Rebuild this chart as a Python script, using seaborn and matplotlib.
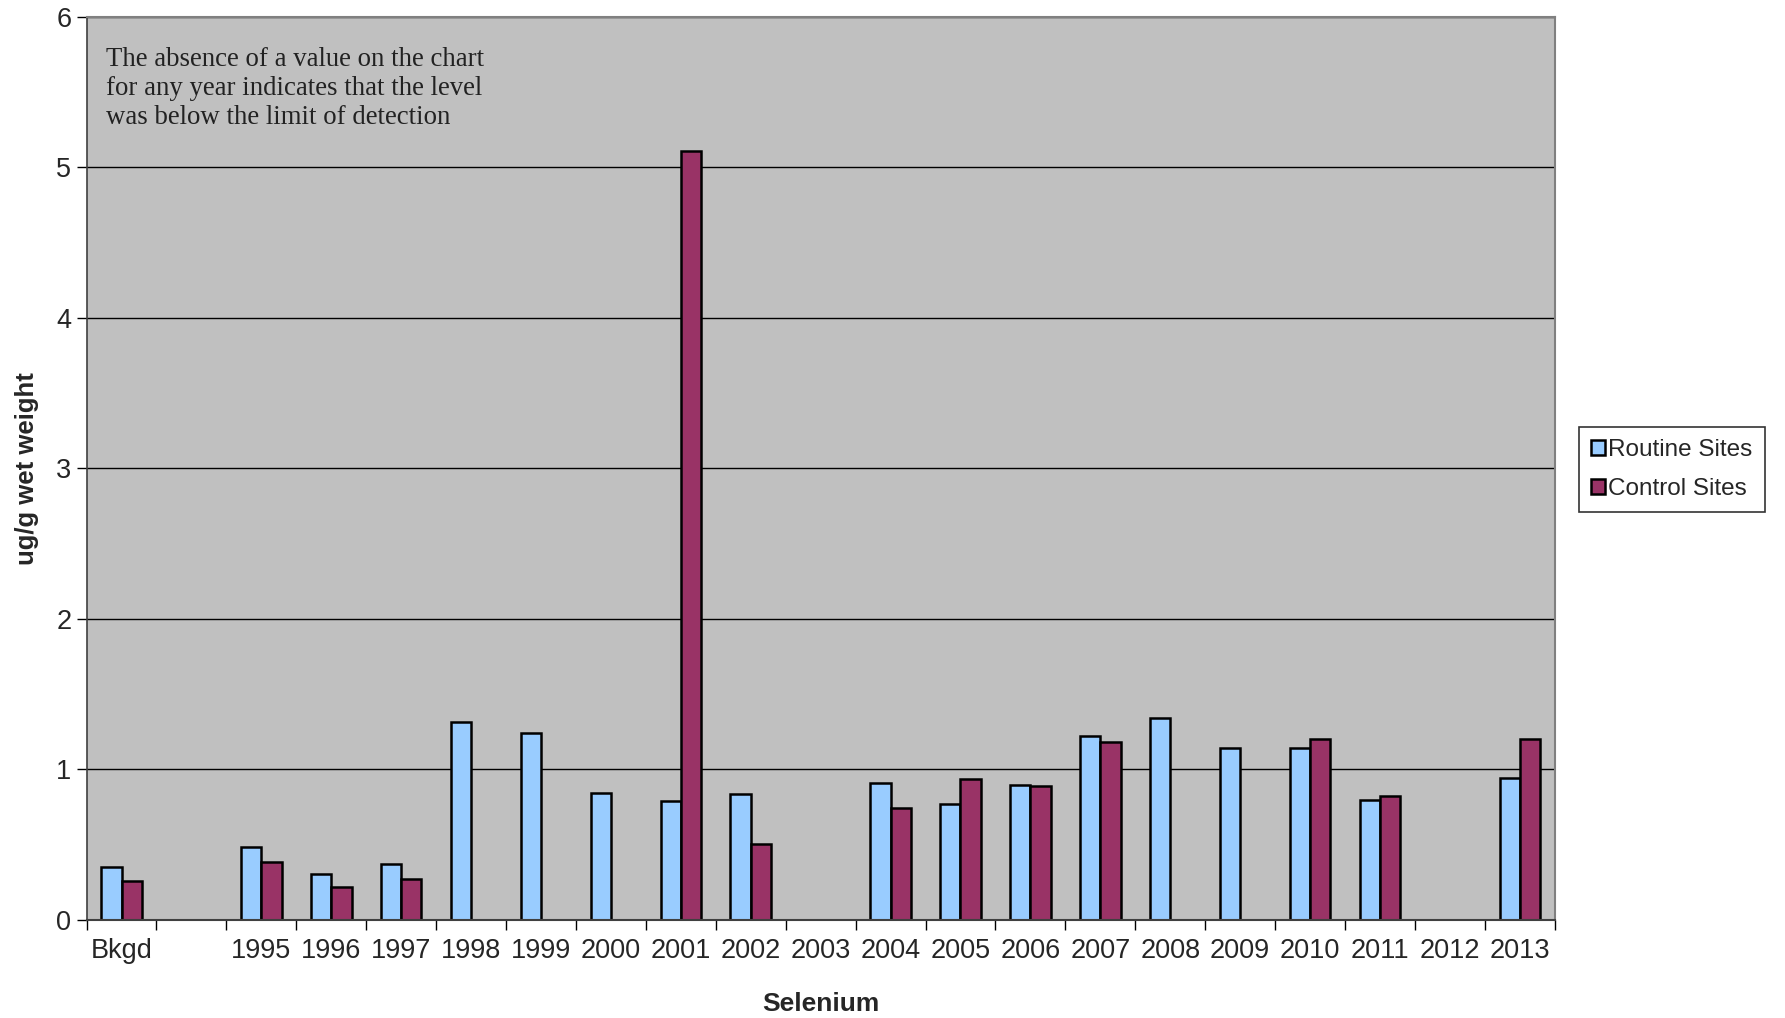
import numpy as np
import pandas as pd
import matplotlib
matplotlib.use("Agg")
import matplotlib.pyplot as plt
from matplotlib.ticker import FixedLocator, NullFormatter
import seaborn as sns

categories = ["Bkgd", " ", "1995", "1996", "1997", "1998", "1999", "2000", "2001",
              "2002", "2003", "2004", "2005", "2006", "2007", "2008", "2009",
              "2010", "2011", "2012", "2013"]
routine = [0.355, np.nan, 0.483, 0.304, 0.37, 1.317, 1.242, 0.843, 0.79,
           0.834, np.nan, 0.912, 0.773, 0.90, 1.22, 1.34, 1.14,
           1.14, 0.80, np.nan, 0.942]
control = [0.26, np.nan, 0.388, 0.22, 0.27, np.nan, np.nan, np.nan, 5.11,
           0.508, np.nan, 0.746, 0.935, 0.893, 1.184, np.nan, np.nan,
           1.20, 0.824, np.nan, 1.20]
series = ["Routine Sites", "Control Sites"]
colors = ["#99CCFF", "#993366"]

df = pd.DataFrame({
    "cat": categories * 2,
    "val": routine + control,
    "series": [series[0]] * len(categories) + [series[1]] * len(categories),
})

sns.set_theme(style="white")
plt.rcParams["font.family"] = ["Liberation Sans", "DejaVu Sans"]

fig = plt.figure(figsize=(17.85, 10.18), dpi=100)
ax = fig.add_axes([0.0485, 0.0963, 0.8225, 0.887])
ax.set_facecolor("#C0C0C0")

sns.barplot(data=df, x="cat", y="val", hue="series", order=categories,
            hue_order=series, palette=colors, saturation=1, width=0.58, gap=0,
            edgecolor="black", linewidth=1.8, errorbar=None, ax=ax)

ax.set_ylim(0, 6)
ax.set_xlim(-0.5, len(categories) - 0.5)
ax.set_yticks(range(0, 7))
ax.yaxis.grid(True, color="black", linewidth=1.0)
ax.set_axisbelow(True)

# Excel-like ticks: marks between categories, labels centered
ax.tick_params(axis="x", which="major", length=0, labelsize=19.5, pad=13)
ax.xaxis.set_minor_locator(FixedLocator(np.arange(-0.5, len(categories), 1.0)))
ax.xaxis.set_minor_formatter(NullFormatter())
ax.tick_params(axis="x", which="minor", length=7, width=1, color="black",
               direction="out", bottom=True)
ax.tick_params(axis="y", which="major", length=7, width=1, color="black",
               direction="out", left=True, labelsize=19.5, pad=4)

for side in ["top", "right"]:
    ax.spines[side].set_color("#808080")
    ax.spines[side].set_linewidth(1.5)
ax.spines["left"].set_color("#404040")
ax.spines["left"].set_linewidth(1.2)
ax.spines["bottom"].set_color("#404040")
ax.spines["bottom"].set_linewidth(1.5)
for s in ax.spines.values():
    s.set_visible(True)

ax.set_xlabel("Selenium", fontsize=19, fontweight="bold", labelpad=20)
ax.set_ylabel("ug/g wet weight", fontsize=18.5, fontweight="bold", labelpad=12)

ax.text(0.013, 0.967,
        "The absence of a value on the chart\nfor any year indicates that the level\nwas below the limit of detection",
        transform=ax.transAxes, ha="left", va="top", fontsize=19.3,
        family=["Liberation Serif", "DejaVu Serif"], color="#222222",
        linespacing=1.22)

handles, labels = ax.get_legend_handles_labels()
leg = ax.legend(handles, labels, loc="center left",
                bbox_to_anchor=(0.8846, 0.539), bbox_transform=fig.transFigure,
                fontsize=17.5, frameon=True, fancybox=False, edgecolor="black",
                handlelength=0.55, handleheight=0.55, handletextpad=0.15,
                labelspacing=0.7, borderpad=0.5, borderaxespad=0)
leg.get_frame().set_linewidth(1.2)

fig.savefig("out.png", dpi=100, facecolor="white")
